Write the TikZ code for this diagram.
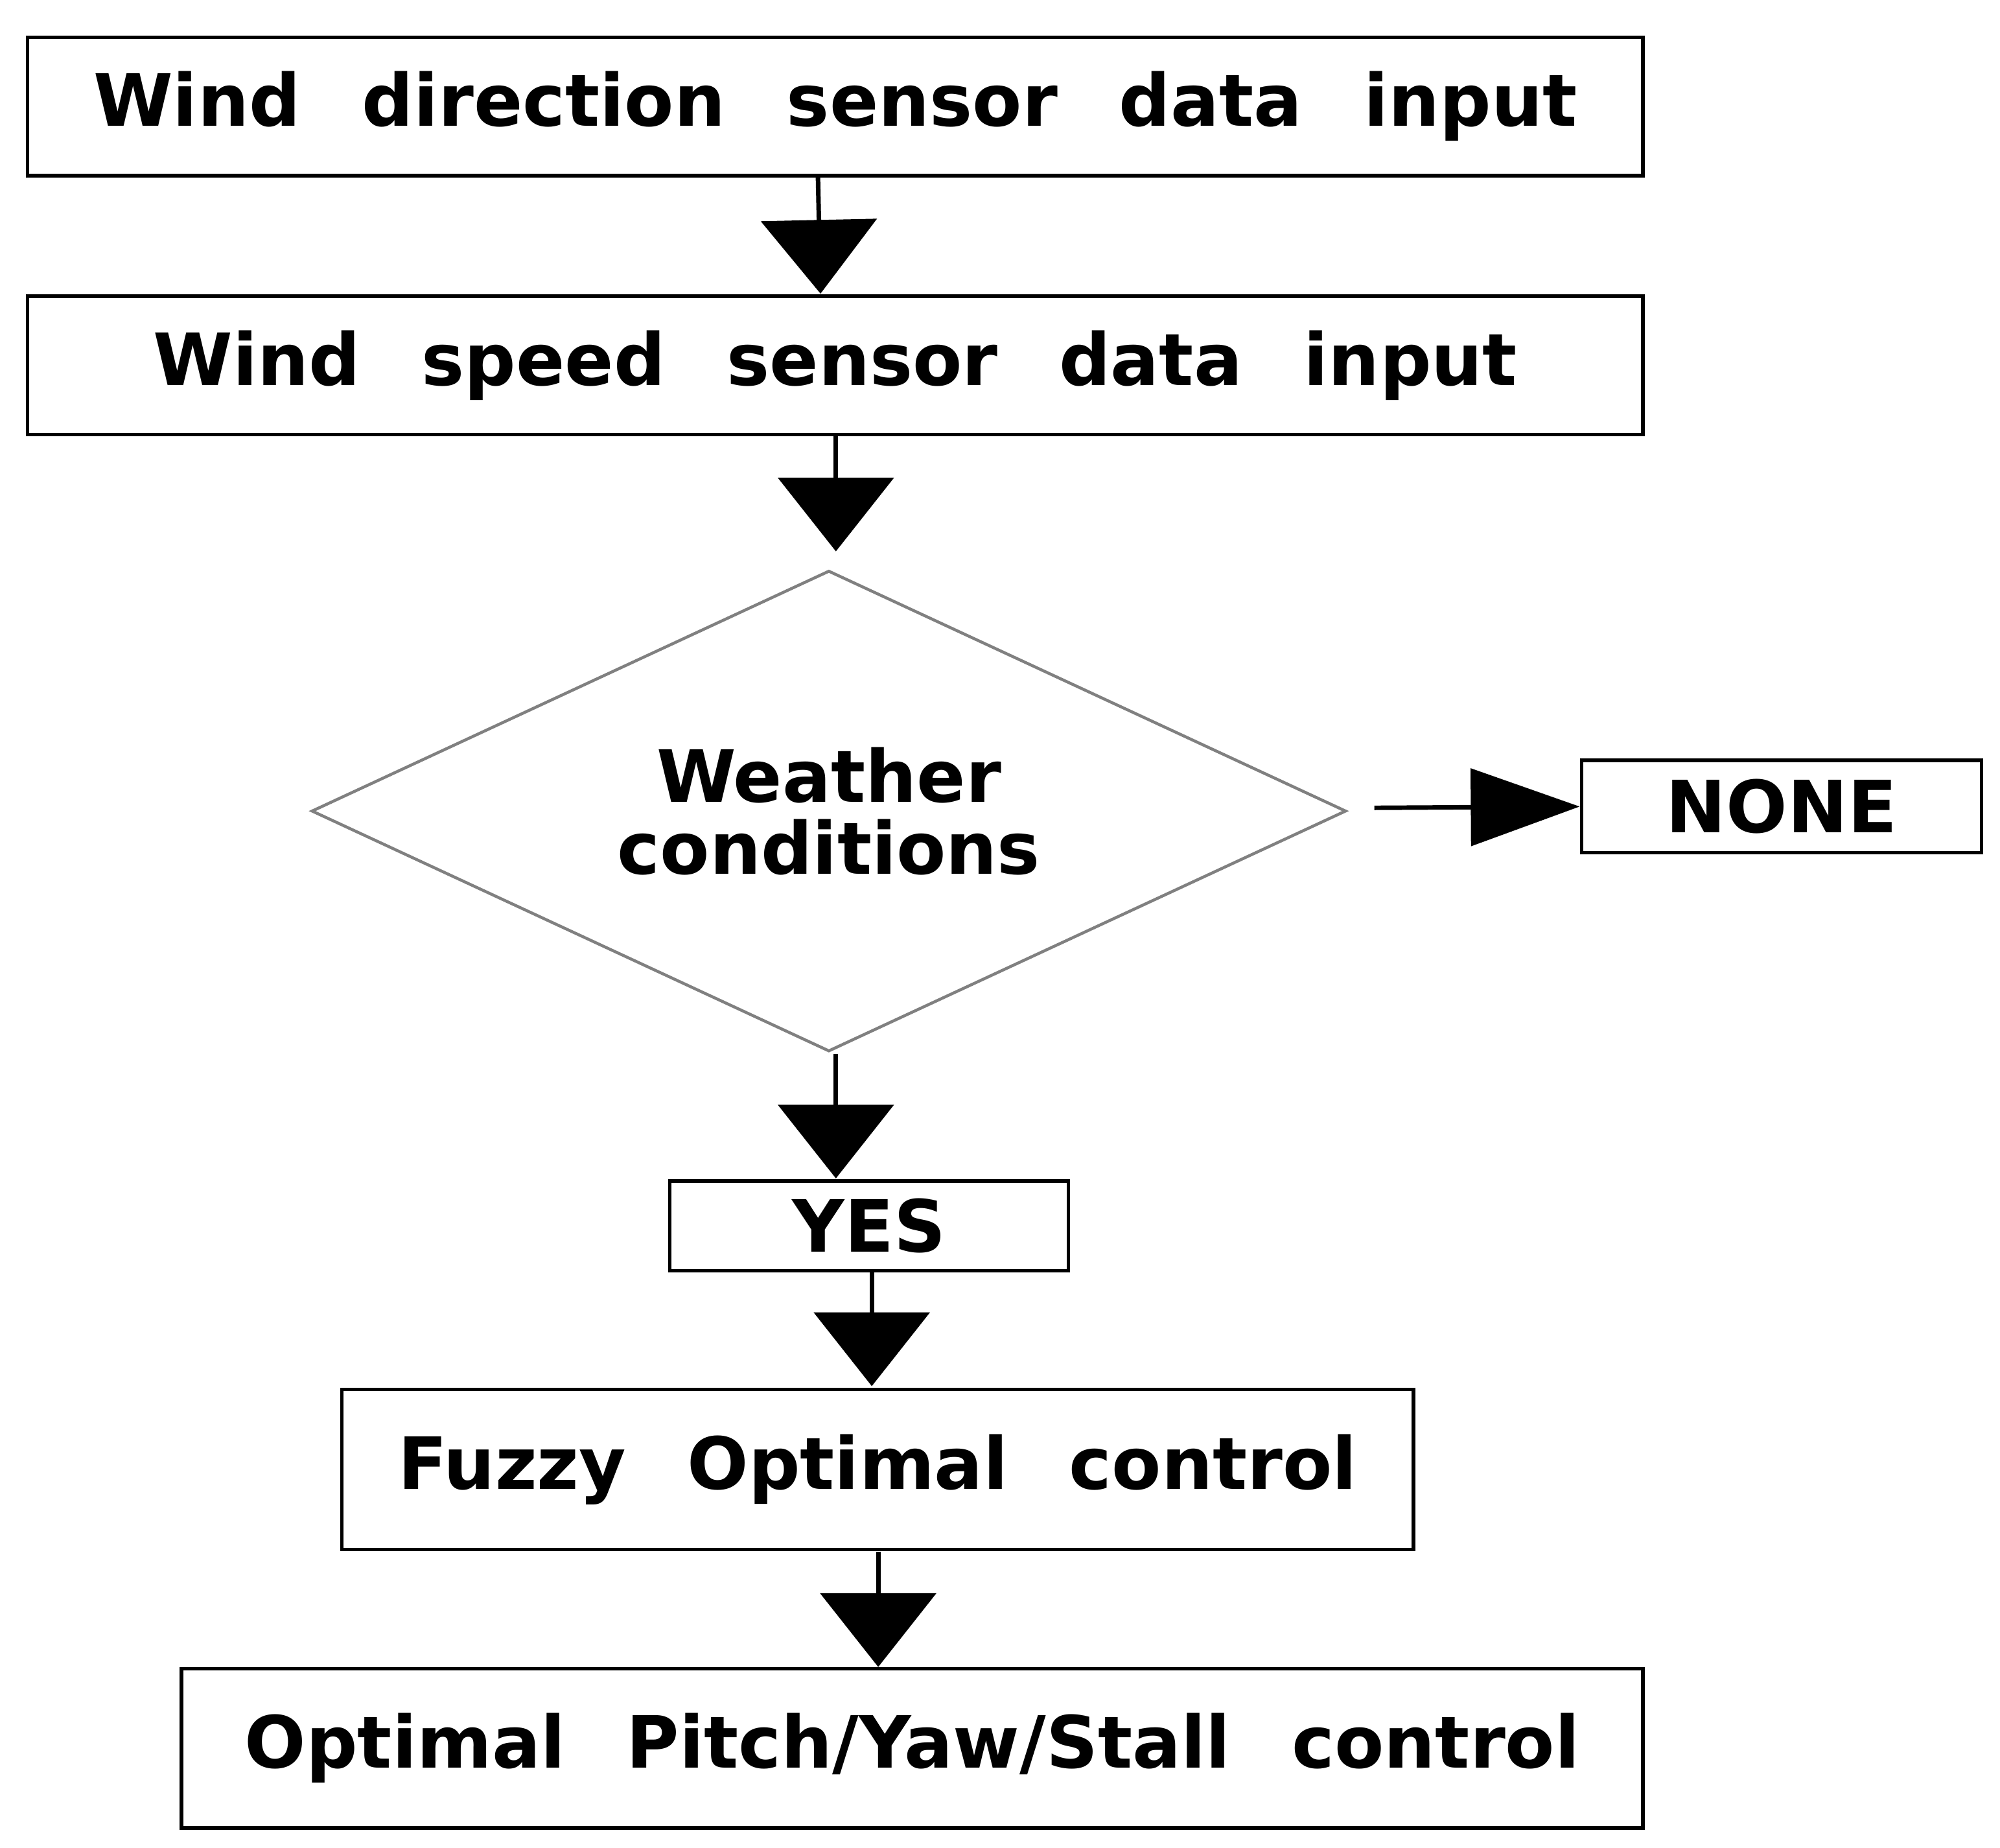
\documentclass[tikz,border=0pt]{standalone}
\usepackage{fontspec}
\setmainfont{DejaVu Sans}
\usetikzlibrary{shapes.geometric,arrows.meta}
\newcommand{\gap}{\hspace{0.85em}}
\begin{document}
\begin{tikzpicture}[x=0.02cm,y=-0.02cm,
  box/.style={draw,line width=1.5pt,inner sep=0pt,font=\bfseries\fontsize{32}{34}\selectfont},
  arr/.style={line width=2pt,-{Triangle[width=1.8cm,length=1.15cm]}},
  harr/.style={line width=2pt,-{Triangle[width=1.2cm,length=1.7cm]}}]
\useasboundingbox (0,0) rectangle (1560,1441);
\node[box,minimum width=1260*0.02cm,minimum height=108*0.02cm] (b1) at (651.5,83) {Wind\gap direction\gap sensor\gap data\gap input};
\node[box,minimum width=1260*0.02cm,minimum height=108*0.02cm] (b2) at (651.5,285) {Wind\gap speed\gap sensor\gap data\gap input};
\node[draw=gray,line width=1.3pt,diamond,inner sep=0pt,minimum width=807*0.02cm,minimum height=375*0.02cm] (d) at (646.5,632.5) {};
\node[font=\bfseries\fontsize{32}{30}\selectfont,align=center,inner sep=0pt] (dt) at (d.center) {Weather\\[2pt]conditions};
\node[box,minimum width=312*0.02cm,minimum height=72*0.02cm] (none) at (1389.5,629) {NONE};
\node[box,minimum width=311*0.02cm,minimum height=70*0.02cm] (yes) at (678,956) {YES};
\node[box,minimum width=836*0.02cm,minimum height=125*0.02cm] (fz) at (684.5,1146) {Fuzzy\gap Optimal\gap control};
\node[box,minimum width=1140*0.02cm,minimum height=124*0.02cm] (op) at (711.5,1363.5) {Optimal\gap Pitch/Yaw/Stall\gap control};
\coordinate (s1) at (638,138); \coordinate (e1) at (640,229);
\draw[arr] (s1) -- (e1);
\coordinate (s2) at (652,340); \coordinate (e2) at (652,430);
\draw[arr] (s2) -- (e2);
\coordinate (s3) at (1072,630);
\draw[harr] (s3) -- (none.west);
\coordinate (s4) at (652,822); \coordinate (e4) at (652,919);
\draw[arr] (s4) -- (e4);
\coordinate (s5) at (680,992); \coordinate (e5) at (680,1081);
\draw[arr] (s5) -- (e5);
\coordinate (s6) at (685,1210); \coordinate (e6) at (685,1300);
\draw[arr] (s6) -- (e6);
\end{tikzpicture}
\end{document}
